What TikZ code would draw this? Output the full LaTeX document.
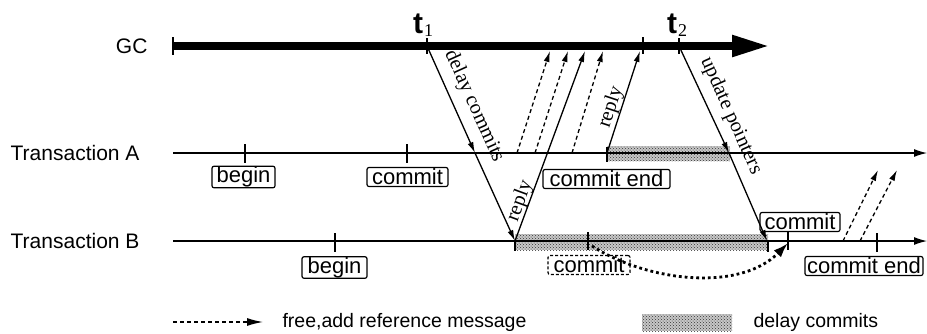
\documentclass[tikz,border=0pt]{standalone}
\usepackage{fontspec}
\setmainfont{Liberation Sans}
\newfontfamily\serifl{Liberation Serif}
\usetikzlibrary{arrows.meta,patterns}
\begin{document}
\begin{tikzpicture}[x=1pt,y=-1pt,
  lbl/.style={font=\fontsize{21}{24}\selectfont},
  leg/.style={font=\fontsize{19.5}{22}\selectfont},
  rlbl/.style={font=\serifl\fontsize{20.5}{22}\selectfont},
  tline/.style={line width=1.2pt,-{Latex[length=13pt,width=8pt]}},
  msg/.style={line width=1.3pt,-{Latex[length=11pt,width=6pt]}},
  dmsg/.style={msg,dash pattern=on 4pt off 3pt},
  tickm/.style={line width=1.2pt},
  evbox/.style={draw,line width=1.2pt,rounded corners=2pt,inner sep=0.5pt,
    font=\fontsize{22}{24}\selectfont,minimum height=19pt},
  shadebox/.style={fill=black!22,postaction={pattern=crosshatch dots,pattern color=black!80}}
]
\useasboundingbox (0,0) rectangle (927,333);

% shaded delay areas
\path[shadebox] (607,146) rectangle (730,161);
\path[shadebox] (515,234) rectangle (768,250);

% labels
\node[lbl,anchor=east] (gc) at (151,46) {GC};
\node[lbl,anchor=east] (ta) at (143,153) {Transaction A};
\node[lbl,anchor=east] (tb) at (143,241) {Transaction B};

% GC line
\coordinate (gcL) at (173,46);
\coordinate (gcR) at (770,46);
\draw[line width=8pt,-{Triangle[length=38pt,width=20pt]}] (gcL) -- (gcR);
\draw[line width=1.5pt] (173,37) -- (173,55);
\draw[tickm] (427,38) -- (427,54);
\draw[tickm] (643,37) -- (643,54);
\draw[tickm] (679,38) -- (679,54);
\node[anchor=base west,inner sep=0pt,font=\fontsize{30}{30}\selectfont\bfseries] (t1l) at (413,33) {t\kern1pt\raisebox{-3pt}{\serifl\mdseries\fontsize{18}{18}\selectfont 1}};
\node[anchor=base west,inner sep=0pt,font=\fontsize{30}{30}\selectfont\bfseries] (t2l) at (667,33) {t\kern1pt\raisebox{-3pt}{\serifl\mdseries\fontsize{18}{18}\selectfont 2}};

% transaction lines
\coordinate (aL) at (173,153); \coordinate (aR) at (927,153);
\coordinate (bL) at (173,241); \coordinate (bR) at (927,241);
\draw[tline] (aL) -- (aR);
\draw[tline] (bL) -- (bR);

% ticks on A
\draw[tickm] (245,144) -- (245,163);
\draw[tickm] (407,144) -- (407,163);
\draw[tickm] (607,147) -- (607,162);
% ticks on B
\draw[tickm] (335,233) -- (335,252);
\draw[tickm] (515,241) -- (515,251);
\draw[tickm] (588,232) -- (588,250);
\draw[tickm] (768,241) -- (768,252);
\draw[tickm] (788,232) -- (788,250);
\draw[tickm] (877,233) -- (877,252);

% event boxes
\node[evbox,minimum width=63pt] (abegin) at (243.5,177) {begin};
\node[evbox,minimum width=81pt] (acommit) at (407.5,177) {commit};
\node[evbox,minimum width=127pt] (acend) at (606.5,179) {commit end};
\node[evbox,minimum width=65pt] (bbegin) at (334.5,267.5) {begin};
\node[evbox,minimum width=80pt] (bcommit) at (800,222) {commit};
\node[evbox,dash pattern=on 3pt off 2pt,minimum width=82pt] (bcommitd) at (589,265) {commit};
\node[evbox,minimum width=118pt] (bcend) at (864,266) {commit end};

% delay commits message
\coordinate (t1) at (427,46);
\coordinate (aDC) at (475,153);
\coordinate (bDC) at (515,241);
\draw[msg] (t1) -- (aDC);
\draw[msg] (aDC) -- (bDC);
\node[rlbl,rotate=-65.7] (dcl) at (474,106) {delay commits};

% update pointers message
\coordinate (t2) at (679,46);
\coordinate (aUP) at (729,153);
\coordinate (bUP) at (767,241);
\draw[msg] (t2) -- (aUP);
\draw[msg] (aUP) -- (bUP);
\node[rlbl,rotate=-66] (upl) at (731,116) {update pointers};

% free/add reference messages from A
\coordinate (d1s) at (517,153); \coordinate (d1e) at (550,51);
\coordinate (d2s) at (535,153); \coordinate (d2e) at (568,51);
\coordinate (d3s) at (572,153); \coordinate (d3e) at (603,51);
\draw[dmsg] (d1s) -- (d1e);
\draw[dmsg] (d2s) -- (d2e);
\draw[dmsg] (d3s) -- (d3e);

% replies
\coordinate (rBs) at (515,241); \coordinate (rBe) at (585,51);
\coordinate (rAs) at (607,153); \coordinate (rAe) at (640,51);
\draw[msg] (rBs) -- (rBe);
\draw[msg] (rAs) -- (rAe);
\node[rlbl,rotate=69.9] (rbl) at (520,201) {reply};
\node[rlbl,rotate=71.7] (ral) at (611,107) {reply};

% free/add reference messages from B
\coordinate (e1s) at (843,241); \coordinate (e1e) at (878,170);
\coordinate (e2s) at (860,241); \coordinate (e2e) at (897,170);
\draw[dmsg] (e1s) -- (e1e);
\draw[dmsg] (e2s) -- (e2e);

% deferred commit
\coordinate (cs) at (592,246);
\coordinate (ce) at (788,243);
\draw[line width=2.8pt,dash pattern=on 2.8pt off 3pt,-{Latex[length=15pt,width=10pt]}]
  (cs) .. controls (648,282) and (740,292) .. (ce);

% legend
\coordinate (l1) at (173,322); \coordinate (l2) at (263,322);
\draw[dmsg,-{Latex[length=16pt,width=8pt]}] (l1) -- (l2);
\node[leg,anchor=west] (legA) at (279,322) {free,add reference message};
\path[shadebox] (642,314) rectangle (732,331);
\node[leg,anchor=west] (legB) at (750,322) {delay commits};
\end{tikzpicture}
\end{document}
